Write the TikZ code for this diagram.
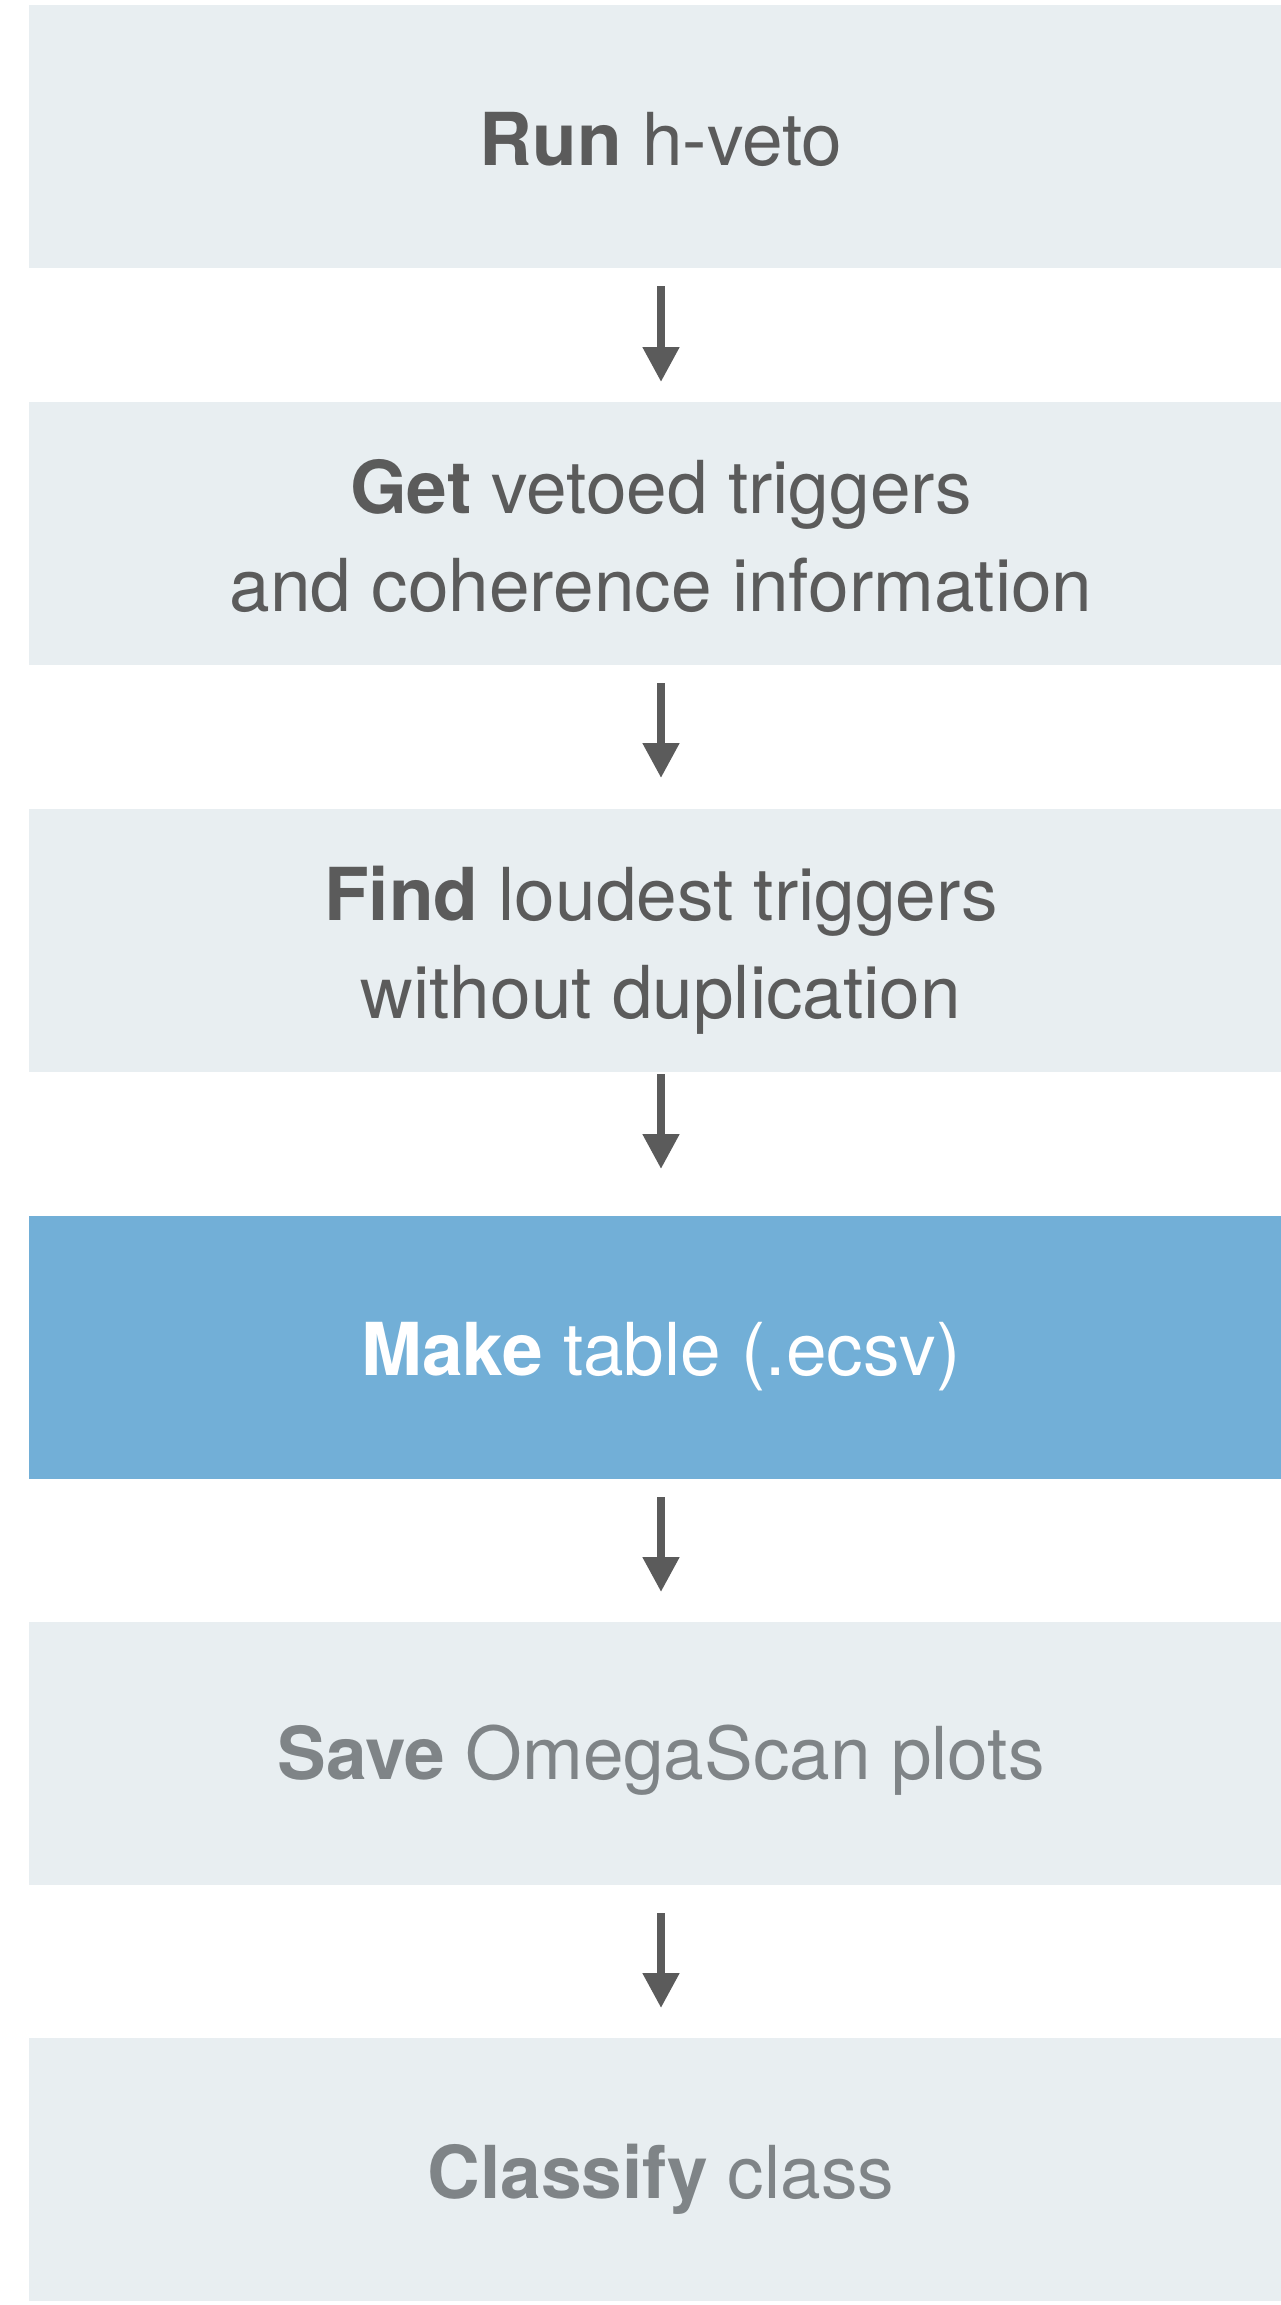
\documentclass[tikz,border=0pt]{standalone}
\usepackage{fontspec}
\setmainfont{TeX Gyre Heros}
\usetikzlibrary{arrows.meta}
\definecolor{boxgray}{HTML}{E8EEF1}
\definecolor{boxblue}{HTML}{72AFD7}
\definecolor{txtdark}{HTML}{5B5B5B}
\definecolor{txtlight}{HTML}{7F8487}
\definecolor{arrowgray}{HTML}{5B5B5B}
\tikzset{
  stepbox/.style={rectangle, inner sep=0pt, draw=none, fill=boxgray,
    minimum width=1252pt, minimum height=263pt},
  activebox/.style={stepbox, fill=boxblue},
  steptext/.style={align=center, inner sep=0pt, text=txtdark,
    font=\fontsize{73}{98}\selectfont},
  activetext/.style={steptext, text=white},
  fadedtext/.style={steptext, text=txtlight},
  flow/.style={draw=arrowgray, line width=8pt,
    -{Triangle[width=35pt,length=35pt]}}
}
\begin{document}
\begin{tikzpicture}[x=1pt,y=-1pt]
\useasboundingbox[fill=white] (0,0) rectangle (1281,2305);
\node[stepbox] (b1) at (655,136.5) {};
\node[stepbox] (b2) at (655,533.5) {};
\node[stepbox] (b3) at (655,940) {};
\node[activebox] (b4) at (655,1347) {};
\node[stepbox] (b5) at (655,1753.5) {};
\node[stepbox] (b6) at (655,2169.5) {};
\node[steptext, shift={(6,3)}] (l1) at (b1.center) {\textbf{Run} h-veto};
\node[steptext, shift={(6,2)}] (l2) at (b2.center) {\textbf{Get} vetoed triggers\\and coherence information};
\node[steptext, shift={(6,10)}] (l3) at (b3.center) {\textbf{Find} loudest triggers\\without duplication};
\node[activetext, shift={(6,10)}] (l4) at (b4.center) {\textbf{Make} table (.ecsv)};
\node[fadedtext, shift={(6,7)}] (l5) at (b5.center) {\textbf{Save} OmegaScan plots};
\node[fadedtext, shift={(6,10)}] (l6) at (b6.center) {\textbf{Classify} class};
\coordinate (s1) at (661,286);  \coordinate (t1) at (661,382);
\coordinate (s2) at (661,683);  \coordinate (t2) at (661,778);
\coordinate (s3) at (661,1074); \coordinate (t3) at (661,1169);
\coordinate (s4) at (661,1497); \coordinate (t4) at (661,1592);
\coordinate (s5) at (661,1913); \coordinate (t5) at (661,2008);
\draw[flow] (s1) -- (t1);
\draw[flow] (s2) -- (t2);
\draw[flow] (s3) -- (t3);
\draw[flow] (s4) -- (t4);
\draw[flow] (s5) -- (t5);
\end{tikzpicture}
\end{document}
